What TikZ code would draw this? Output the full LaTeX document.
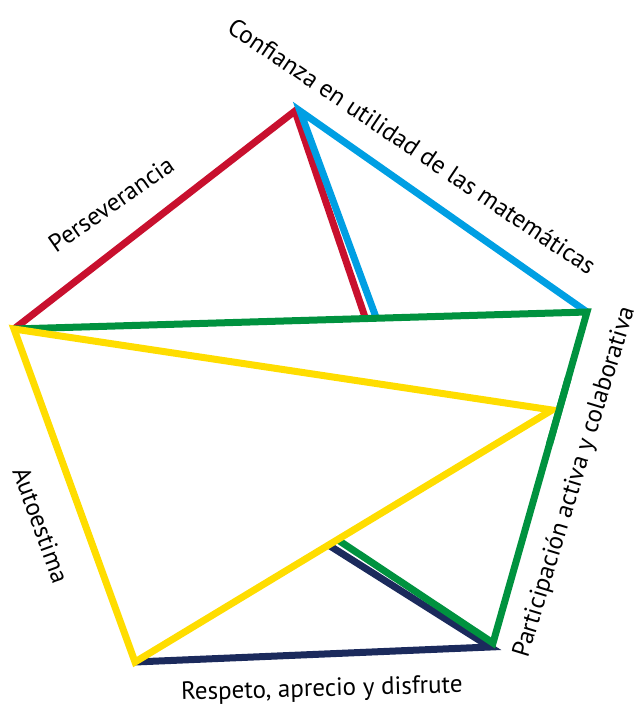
\documentclass[tikz,border=0pt]{standalone}
\usepackage{fontspec}
\usetikzlibrary{calc}
\setmainfont{PT Sans}
\definecolor{cred}{HTML}{C8102E}
\definecolor{cblue}{HTML}{009FE3}
\definecolor{cgreen}{HTML}{00923F}
\definecolor{cyellow}{HTML}{FFDD00}
\definecolor{cnavy}{HTML}{1B2A5C}
\begin{document}
\begin{tikzpicture}[x=1pt,y=-1pt,
  edge/.style={line width=7pt,line join=miter,miter limit=10},
  lbl/.style={font=\fontsize{25}{28}\selectfont,inner sep=0pt}]
\useasboundingbox (0,0) rectangle (638,711);
% vertices
\coordinate (topR) at (295,111);
\coordinate (topB) at (300,111);
\coordinate (endR) at (366,320);
\coordinate (endB) at (377,320);
\coordinate (L) at (14,329);
\coordinate (R) at (587,312);
\coordinate (Y) at (552,410);
\coordinate (BL) at (135,662);
\coordinate (N) at (490,647);
\coordinate (G) at (493,643);
\coordinate (Nend) at (330,546);
\coordinate (Gend) at (338,540);
% red
\draw[edge,cred] (L) -- (topR) -- (endR);
% blue
\draw[edge,cblue] (endB) -- (topB) -- (R);
% navy
\draw[edge,cnavy] (BL) -- (N) -- (Nend);
% green
\draw[edge,cgreen] (L) -- (R) -- (G) -- (Gend);
% yellow
\draw[edge,cyellow] (L) -- (Y) -- (BL) -- cycle;
% green over yellow tip
\draw[edge,cgreen] ($(R)!0.2!(G)$) -- ($(R)!0.4!(G)$);
% labels
\node[lbl,rotate=-34] (l1) at (412,146) {Confianza en utilidad de las matemáticas};
\node[lbl,rotate=35] (l2) at (111,204) {Perseverancia};
\node[lbl,rotate=73] (l3) at (575,482) {Participación activa y colaborativa};
\node[lbl,rotate=-70] (l4) at (41,525) {Autoestima};
\node[lbl,rotate=1.5] (l5) at (322,690) {Respeto, aprecio y disfrute};
\end{tikzpicture}
\end{document}
